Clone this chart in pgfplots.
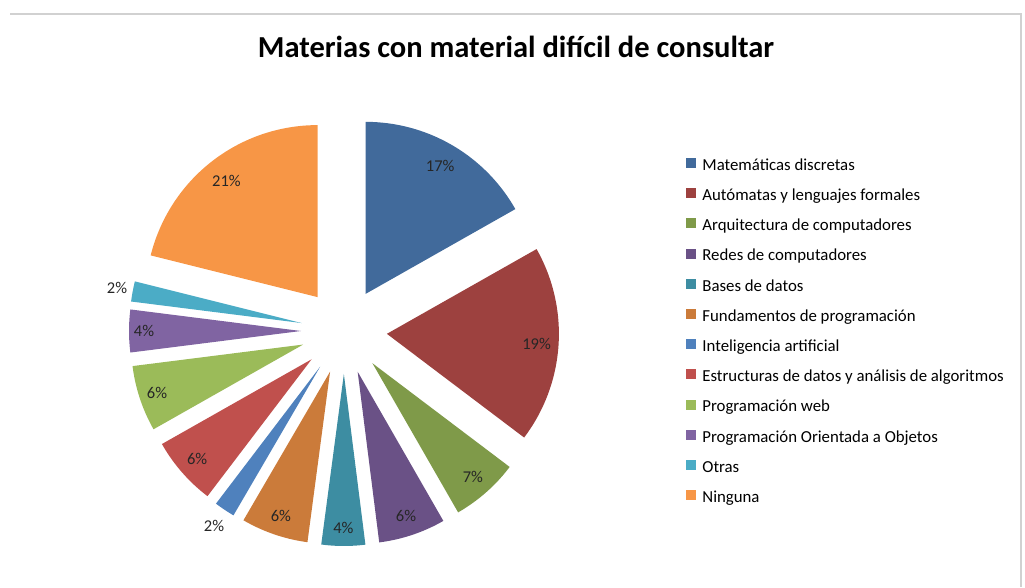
\documentclass[border=0pt]{standalone}
\usepackage{pgfplots}
\pgfplotsset{compat=1.18}
\usepackage{fontspec}
\setmainfont{Carlito}

\definecolor{c1}{HTML}{416A9B}
\definecolor{c2}{HTML}{9D413F}
\definecolor{c3}{HTML}{7F9A49}
\definecolor{c4}{HTML}{6A5186}
\definecolor{c5}{HTML}{3D8DA2}
\definecolor{c6}{HTML}{CB7B3A}
\definecolor{c7}{HTML}{4F81BD}
\definecolor{c8}{HTML}{C0504D}
\definecolor{c9}{HTML}{9BBB59}
\definecolor{c10}{HTML}{8064A2}
\definecolor{c11}{HTML}{4BACC6}
\definecolor{c12}{HTML}{F79646}

% pie geometry in pixel units: centre (344,256), explosion 43, radius 172
% \slice{cum start %}{cum end %}{colour}{label}{label radius}
\newcommand{\slice}[5]{%
  \addplot[fill=#3, draw=none, forget plot, domain={90-3.6*#2}:{90-3.6*#1}, samples=80, variable=\t]
    ({344+43*cos(90-1.8*(#1+#2))+172*cos(t)},{256+43*sin(90-1.8*(#1+#2))+172*sin(t)})
    -- (axis cs:{344+43*cos(90-1.8*(#1+#2))},{256+43*sin(90-1.8*(#1+#2))}) -- cycle;
  \node[font=\fontsize{16.5}{18}\selectfont, text=black!85] at
    (axis cs:{344+43*cos(90-1.8*(#1+#2))+#5*cos(90-1.8*(#1+#2))},{256+43*sin(90-1.8*(#1+#2))+#5*sin(90-1.8*(#1+#2))}) {#4};
}

\begin{document}
\begin{tikzpicture}
\begin{axis}[
  x=1pt, y=1pt,
  xmin=0, xmax=1025, ymin=0, ymax=587,
  hide axis, clip=false, scale only axis,
  legend cell align=left,
  legend style={at={(686/1025,429/587)}, anchor=north west, draw=none, fill=none,
    inner sep=0pt, outer sep=0pt, row sep=15pt, column sep=7pt,
    font=\fontsize{16.8}{18}\selectfont,
    nodes={inner sep=0pt, text height=10pt, text depth=3pt}},
  legend image code/.code={\fill[#1] (0pt,-0.5pt) rectangle (9pt,8.5pt);},
]
\path (rel axis cs:0,0) rectangle (rel axis cs:1,1);
\draw[line width=2pt, color=black!18] (axis cs:10,573) -- (axis cs:1021,573) -- (axis cs:1021,0);

\slice{0}{16.8}{c1}{17\%}{148}
\slice{16.8}{35.3}{c2}{19\%}{150}
\slice{35.3}{41.7}{c3}{7\%}{152}
\slice{41.7}{48.0}{c4}{6\%}{152}
\slice{48.0}{52.1}{c5}{4\%}{154}
\slice{52.1}{58.4}{c6}{6\%}{152}
\slice{58.4}{60.35}{c7}{2\%}{191}
\slice{60.35}{66.8}{c8}{6\%}{152}
\slice{66.8}{73.0}{c9}{6\%}{154}
\slice{73.0}{77.0}{c10}{4\%}{157}
\slice{77.0}{78.9}{c11}{2\%}{188}
\slice{78.9}{100}{c12}{21\%}{148}

\addlegendimage{c1}\addlegendentry{Matemáticas discretas}
\addlegendimage{c2}\addlegendentry{Autómatas y lenguajes formales}
\addlegendimage{c3}\addlegendentry{Arquitectura de computadores}
\addlegendimage{c4}\addlegendentry{Redes de computadores}
\addlegendimage{c5}\addlegendentry{Bases de datos}
\addlegendimage{c6}\addlegendentry{Fundamentos de programación}
\addlegendimage{c7}\addlegendentry{Inteligencia artificial}
\addlegendimage{c8}\addlegendentry{Estructuras de datos y análisis de algoritmos}
\addlegendimage{c9}\addlegendentry{Programación web}
\addlegendimage{c10}\addlegendentry{Programación Orientada a Objetos}
\addlegendimage{c11}\addlegendentry{Otras}
\addlegendimage{c12}\addlegendentry{Ninguna}

\node[font=\bfseries\fontsize{30.5}{34}\selectfont] at (axis cs:516,540) {Materias con material difícil de consultar};
\end{axis}
\end{tikzpicture}
\end{document}
